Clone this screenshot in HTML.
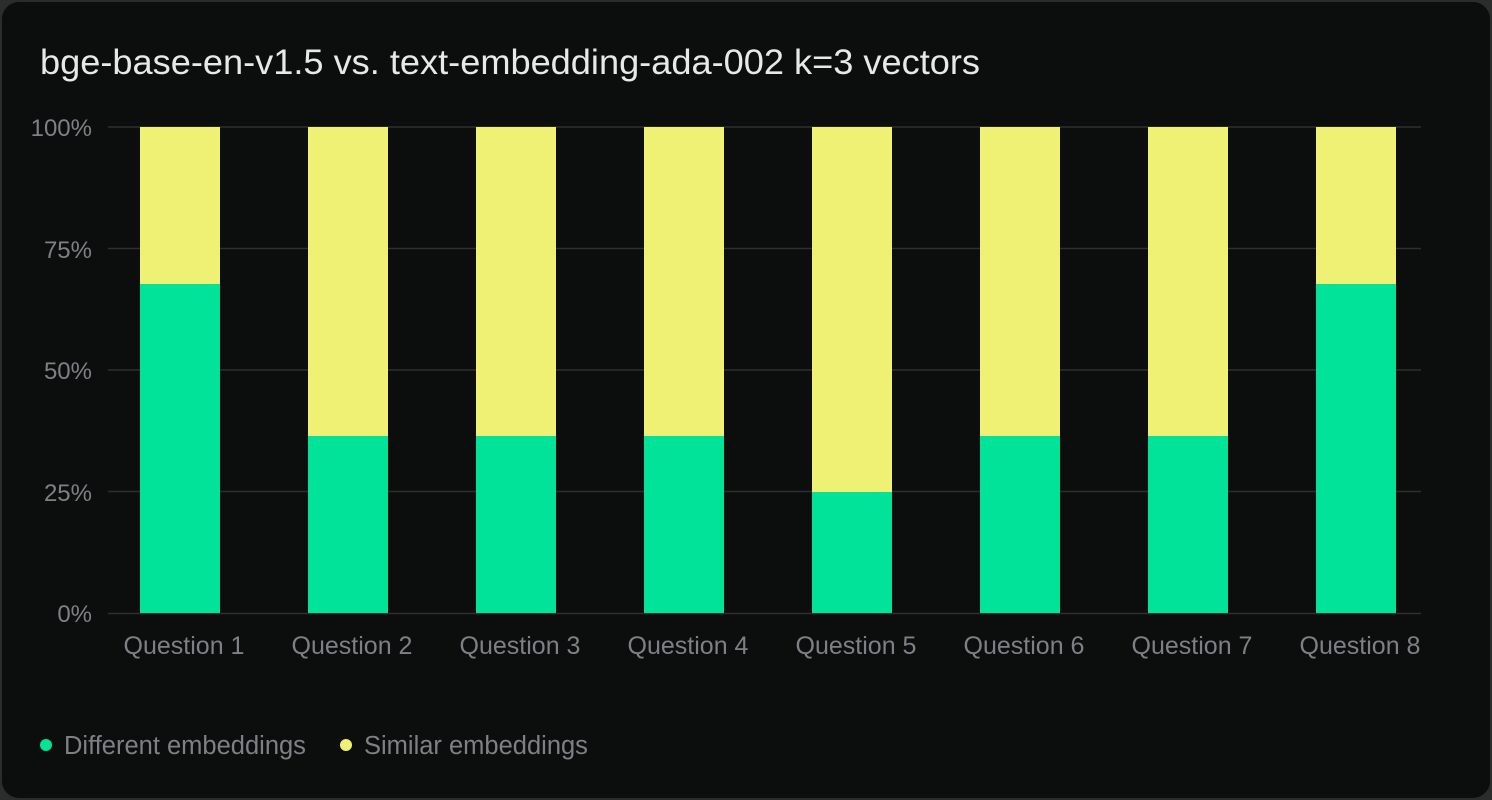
<!DOCTYPE html>
<html><head><meta charset="utf-8"><style>
html,body{margin:0;padding:0;background:#2b2c2c;width:1492px;height:800px;overflow:hidden}
svg{display:block}
text{font-family:"Liberation Sans",sans-serif}
</style></head><body>
<svg width="1492" height="800" viewBox="0 0 1492 800">
<rect x="1" y="1" width="1490" height="798" rx="18" fill="#0c0d0d" stroke="#2b2c2c" stroke-width="2"/>
<text x="40" y="74" fill="#e8e8e8" font-size="31" textLength="940" lengthAdjust="spacingAndGlyphs" style="font-size:35px">bge-base-en-v1.5 vs. text-embedding-ada-002 k=3 vectors</text>
<g stroke="#2e2f2f" stroke-width="1.5">
<line x1="108" x2="1421" y1="127" y2="127"/>
<line x1="108" x2="1421" y1="248.5" y2="248.5"/>
<line x1="108" x2="1421" y1="370" y2="370"/>
<line x1="108" x2="1421" y1="491.5" y2="491.5"/>
<line x1="108" x2="1421" y1="613.5" y2="613.5"/>
</g>
<g fill="#7d8185" font-size="24" text-anchor="end">
<text x="92" y="136">100%</text>
<text x="92" y="258">75%</text>
<text x="92" y="379">50%</text>
<text x="92" y="501">25%</text>
<text x="92" y="622">0%</text>
</g>
<g>
<rect x="140" y="127" width="80" height="157" fill="#eff174"/><rect x="140" y="284" width="80" height="329" fill="#00e398"/>
<rect x="308" y="127" width="80" height="309" fill="#eff174"/><rect x="308" y="436" width="80" height="177" fill="#00e398"/>
<rect x="476" y="127" width="80" height="309" fill="#eff174"/><rect x="476" y="436" width="80" height="177" fill="#00e398"/>
<rect x="644" y="127" width="80" height="309" fill="#eff174"/><rect x="644" y="436" width="80" height="177" fill="#00e398"/>
<rect x="812" y="127" width="80" height="365" fill="#eff174"/><rect x="812" y="492" width="80" height="121" fill="#00e398"/>
<rect x="980" y="127" width="80" height="309" fill="#eff174"/><rect x="980" y="436" width="80" height="177" fill="#00e398"/>
<rect x="1148" y="127" width="80" height="309" fill="#eff174"/><rect x="1148" y="436" width="80" height="177" fill="#00e398"/>
<rect x="1316" y="127" width="80" height="157" fill="#eff174"/><rect x="1316" y="284" width="80" height="329" fill="#00e398"/>
</g>
<g fill="#7d8185" font-size="25" text-anchor="middle">
<text x="184" y="654">Question 1</text>
<text x="352" y="654">Question 2</text>
<text x="520" y="654">Question 3</text>
<text x="688" y="654">Question 4</text>
<text x="856" y="654">Question 5</text>
<text x="1024" y="654">Question 6</text>
<text x="1192" y="654">Question 7</text>
<text x="1360" y="654">Question 8</text>
</g>
<circle cx="46" cy="745" r="6" fill="#00e398"/>
<text x="64" y="754" fill="#7d8185" font-size="25.5">Different embeddings</text>
<circle cx="346" cy="745" r="6" fill="#eff174"/>
<text x="364" y="754" fill="#7d8185" font-size="25.5">Similar embeddings</text>
</svg>
</body></html>
